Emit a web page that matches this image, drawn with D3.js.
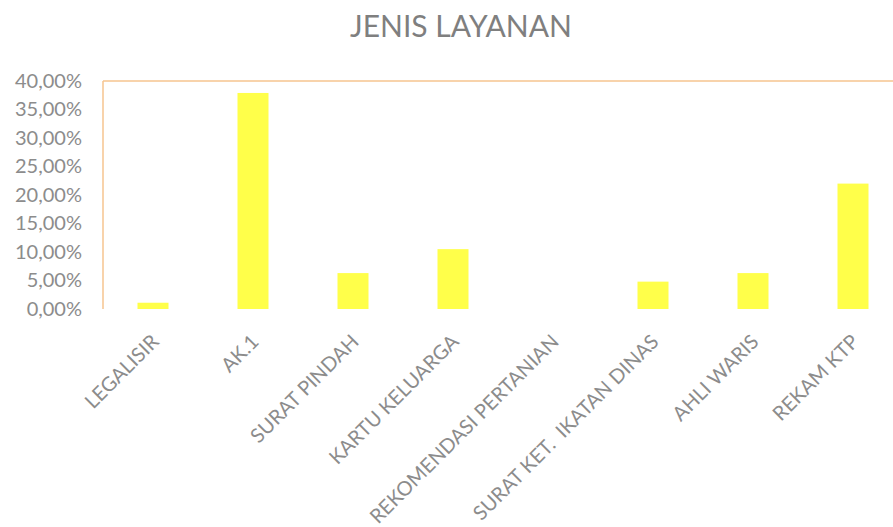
<!DOCTYPE html>
<html>
<head>
<meta charset="utf-8">
<script src="https://cdn.jsdelivr.net/npm/d3@7"></script>
<style>
  body { margin: 0; background: #fff; }
  svg { display: block; font-family: Lato, 'Open Sans', sans-serif; }
</style>
</head>
<body>
<svg id="chart"></svg>
<script>
const WIDTH = 893;
const HEIGHT = 527;
const TITLE = 'JENIS LAYANAN';

const categories = [
  'LEGALISIR', 'AK.1', 'SURAT PINDAH', 'KARTU KELUARGA',
  'REKOMENDASI PERTANIAN', 'SURAT KET.  IKATAN DINAS', 'AHLI WARIS', 'REKAM KTP'
];
const values = [0.011, 0.379, 0.063, 0.105, 0, 0.048, 0.063, 0.22];
const yTicks = [0, 0.05, 0.10, 0.15, 0.20, 0.25, 0.30, 0.35, 0.40];

const margin = { top: 81, right: -10, bottom: 218, left: 103 };
const innerW = WIDTH - margin.left - margin.right;
const innerH = HEIGHT - margin.top - margin.bottom;

const locale = d3.formatLocale({ decimal: ',', thousands: '.', grouping: [3], currency: ['', ''] });
const fmt = locale.format('.2%');

const svg = d3.select('#chart')
  .attr('width', WIDTH)
  .attr('height', HEIGHT);

// Title
svg.append('text')
  .attr('x', 461)
  .attr('y', 37)
  .attr('text-anchor', 'middle')
  .attr('fill', '#7f7f7f')
  .attr('font-size', 30)
  .text(TITLE);

const g = svg.append('g')
  .attr('transform', 'translate(' + margin.left + ',' + margin.top + ')');

const x = d3.scaleBand()
  .domain(categories)
  .range([0, innerW])
  .paddingInner(0.69)
  .paddingOuter(0.345);

const y = d3.scaleLinear()
  .domain([0, 0.4])
  .range([innerH, 0]);

// Y axis labels
const yAxis = g.append('g')
  .call(d3.axisLeft(y).tickValues(yTicks).tickFormat(fmt).tickSize(0).tickPadding(21));
yAxis.select('.domain').remove();
yAxis.selectAll('text')
  .attr('fill', '#8c8c8c')
  .attr('font-size', 20)
  .attr('font-family', 'Lato, sans-serif');

// Frame lines (top and left)
g.append('line')
  .attr('x1', 0).attr('x2', innerW)
  .attr('y1', y(0.4)).attr('y2', y(0.4))
  .attr('stroke', '#f6c48f')
  .attr('stroke-width', 1.5);
g.append('line')
  .attr('x1', 0).attr('x2', 0)
  .attr('y1', y(0.4)).attr('y2', y(0))
  .attr('stroke', '#f6c48f')
  .attr('stroke-width', 1.5);

// Bars
g.selectAll('rect.bar')
  .data(values)
  .enter()
  .append('rect')
  .attr('class', 'bar')
  .attr('x', (d, i) => x(categories[i]))
  .attr('width', x.bandwidth())
  .attr('y', d => y(d))
  .attr('height', d => y(0) - y(d))
  .attr('fill', '#ffff4a');

// X axis labels
const xAxis = g.append('g')
  .attr('transform', 'translate(0,' + innerH + ')')
  .call(d3.axisBottom(x).tickSize(0).tickPadding(0));
xAxis.select('.domain').remove();
xAxis.selectAll('text')
  .attr('fill', '#8c8c8c')
  .attr('font-size', 20)
  .attr('font-family', 'Lato, sans-serif')
  .attr('text-anchor', 'end')
  .attr('dy', 0)
  .attr('y', 0)
  .attr('transform', 'translate(7,34) rotate(-45)')
  .style('white-space', 'pre');
</script>
</body>
</html>
